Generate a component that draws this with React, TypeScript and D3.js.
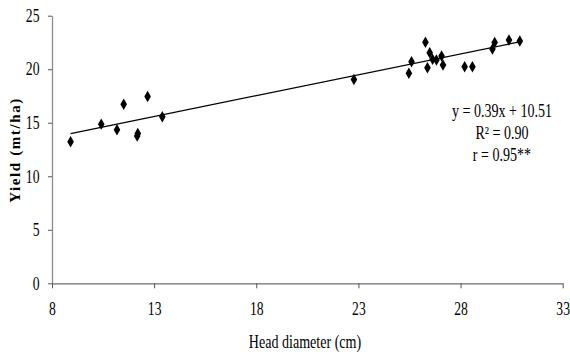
import { useRef, useEffect } from 'react';
import * as d3 from 'd3';

// head diameter (cm) and yield (mt/ha)
const headDiameter = [8.91, 10.41, 11.18, 11.51, 12.17, 12.2, 12.68, 13.4,
    22.78, 25.47, 25.6, 26.28, 26.49, 26.38, 26.63, 26.82, 27.07, 27.14, 28.2, 28.58, 29.56, 29.67, 30.37, 30.9];
const yieldValues = [13.22, 14.87, 14.34, 16.72, 13.75, 14.0, 17.46, 15.56,
    19.05, 19.62, 20.7, 22.52, 21.54, 20.14, 20.93, 20.86, 21.23, 20.39, 20.23, 20.23, 21.89, 22.49, 22.73, 22.64];

const xTicks = [8, 13, 18, 23, 28, 33];
const yTicks = [0, 5, 10, 15, 20, 25];

const slope = 0.39;
const intercept = 10.51;
const annotation = ['y = 0.39x + 10.51', 'R² = 0.90', 'r = 0.95**'];

const W = 570;
const H = 361;
const FONT = '"Liberation Serif", "Times New Roman", serif';
const SQUEEZE = 0.76;

const App = () => {
    const chartRef = useRef<SVGSVGElement>(null);

    useEffect(() => {
        if (!chartRef.current) return;
        const svg = d3.select(chartRef.current);
        svg.selectAll('*').remove();

        const x = d3.scaleLinear().domain([8, 33]).range([52, 562.7]);
        const y = d3.scaleLinear().domain([0, 25]).range([283.3, 15.7]);

        // y axis
        const yAxis = svg.append('g')
            .attr('transform', `translate(${x(8)},0)`)
            .call(d3.axisLeft(y).tickValues(yTicks).tickSize(4).tickSizeOuter(0));
        yAxis.select('.domain').attr('stroke', '#8c8c8c').attr('stroke-width', 1.3);
        yAxis.selectAll('.tick line').attr('stroke', '#555');
        yAxis.selectAll('.tick text')
            .attr('x', -12.5 / SQUEEZE)
            .attr('transform', `scale(${SQUEEZE},1)`)
            .style('font-family', FONT)
            .style('font-size', '18px')
            .attr('fill', '#000');

        // x axis
        const xAxis = svg.append('g')
            .attr('transform', `translate(0,${y(0)})`)
            .call(d3.axisBottom(x).tickValues(xTicks).tickSize(5).tickSizeOuter(0));
        xAxis.select('.domain').attr('stroke', '#6e6e6e').attr('stroke-width', 1.3);
        xAxis.selectAll('.tick line').attr('stroke', '#555');
        xAxis.selectAll('.tick text')
            .attr('y', 19)
            .attr('transform', `scale(${SQUEEZE},1)`)
            .style('font-family', FONT)
            .style('font-size', '18px')
            .attr('fill', '#000');

        // axis titles
        svg.append('g')
            .attr('transform', `translate(305,348) scale(${SQUEEZE},1)`)
            .append('text')
            .attr('text-anchor', 'middle')
            .style('font-family', FONT)
            .style('font-size', '18.5px')
            .text('Head diameter (cm)');

        svg.append('text')
            .attr('transform', 'translate(20,150) rotate(-90)')
            .attr('text-anchor', 'middle')
            .style('font-family', FONT)
            .style('font-size', '15px')
            .style('font-weight', 'bold')
            .style('letter-spacing', '1.6px')
            .text('Yield (mt/ha)');

        // regression line
        const [x0, x1] = d3.extent(headDiameter) as [number, number];
        svg.append('line')
            .attr('x1', x(x0)).attr('y1', y(slope * x0 + intercept))
            .attr('x2', x(x1)).attr('y2', y(slope * x1 + intercept))
            .attr('stroke', '#000')
            .attr('stroke-width', 1.2);

        // points
        const diamond = d3.symbol().type(d3.symbolDiamond).size(38);
        svg.selectAll('path.pt')
            .data(headDiameter)
            .enter()
            .append('path')
            .attr('class', 'pt')
            .attr('d', diamond)
            .attr('transform', (d, i) => `translate(${x(d)},${y(yieldValues[i])})`)
            .attr('fill', '#000');

        // equation text
        const baselines = [117, 139, 161];
        annotation.forEach((t, i) => {
            svg.append('g')
                .attr('transform', `translate(502,${baselines[i]}) scale(${SQUEEZE},1)`)
                .append('text')
                .attr('text-anchor', 'middle')
                .style('font-family', FONT)
                .style('font-size', '18.5px')
                .text(t);
        });
    }, []);

    return (
        <svg
            ref={chartRef}
            width={W}
            height={H}
            style={{ position: 'absolute', left: 0, top: 0, background: '#fff' }}
        />
    );
};

export default App;
